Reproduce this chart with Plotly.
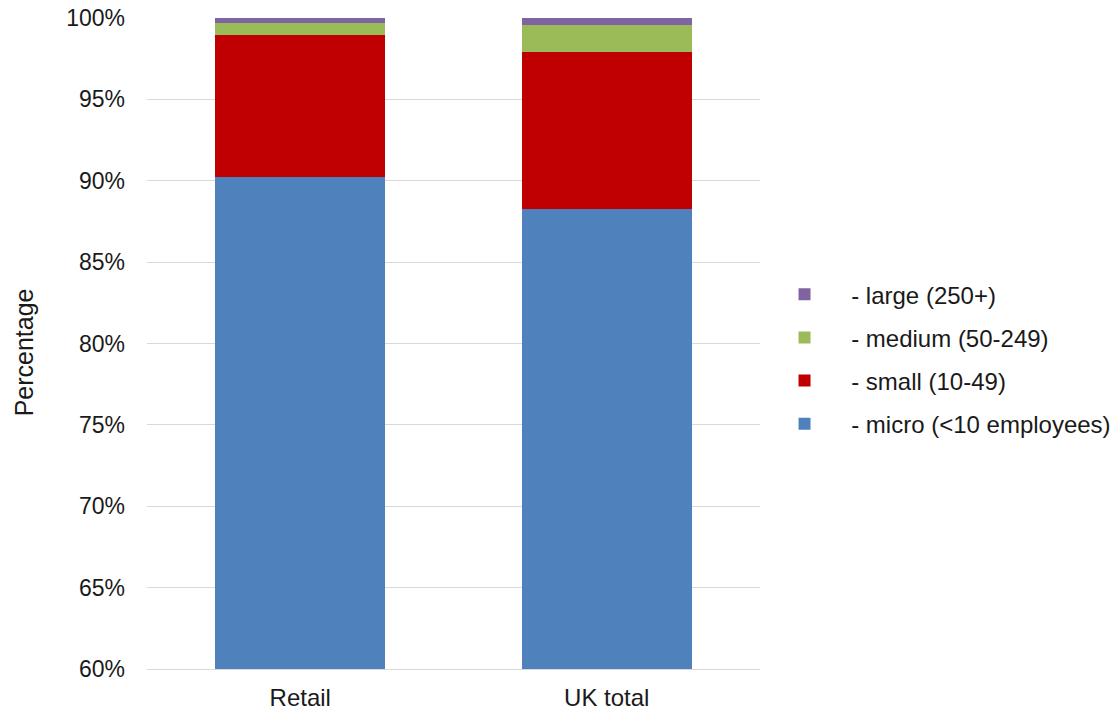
import plotly.graph_objects as go

categories = ["Retail", "UK total"]
micro = [90.26, 88.28]
small = [8.68, 9.66]
medium = [0.78, 1.64]
large = [0.28, 0.42]

series = [
    ("- micro (<10 employees)", micro, "#4f81bd", 4),
    ("- small (10-49)", small, "#c00000", 3),
    ("- medium (50-249)", medium, "#9bbb59", 2),
    ("- large (250+)", large, "#8064a2", 1),
]

tick_vals = [60, 65, 70, 75, 80, 85, 90, 95, 100]
tick_text = [f"{v}%" for v in tick_vals]

pad = "\u00a0" * 4  # extra gap between legend swatch and label

fig = go.Figure()
for name, vals, color, rank in series:
    fig.add_trace(go.Bar(
        x=categories, y=vals, name=pad + name, legendgroup=name,
        legendrank=rank,
        marker=dict(color=color, line=dict(width=0)),
    ))

font_family = "Liberation Sans, Arial, sans-serif"
fig.update_layout(
    barmode="stack",
    bargap=0.445,
    width=1114, height=710,
    margin=dict(l=147, r=354, t=18, b=41, autoexpand=False),
    plot_bgcolor="white", paper_bgcolor="white",
    font=dict(family=font_family, size=24, color="#1a1a1a"),
    showlegend=True,
    legend=dict(
        x=1.04, xanchor="left", y=0.476, yanchor="middle",
        traceorder="grouped", tracegroupgap=9,
        font=dict(size=24, color="#1a1a1a"),
        itemsizing="constant",
    ),
    yaxis=dict(
        range=[60, 100], tickvals=tick_vals, ticktext=tick_text,
        showgrid=True, gridcolor="#d9d9d9", gridwidth=1.3,
        zeroline=False, showline=False, ticks="",
        ticklabelstandoff=21, automargin=False,
        tickfont=dict(size=23),
    ),
    xaxis=dict(
        showline=True, linecolor="#d9d9d9", linewidth=1.3,
        ticks="", showgrid=False, automargin=False,
        ticklabelstandoff=7,
        tickfont=dict(size=24),
    ),
    annotations=[dict(
        text="Percentage", textangle=-90, showarrow=False,
        xref="paper", yref="paper", x=-0.2, y=0.487,
        xanchor="center", yanchor="middle",
        font=dict(size=25, color="#1a1a1a"),
    )],
)

fig.write_html("out.html")
